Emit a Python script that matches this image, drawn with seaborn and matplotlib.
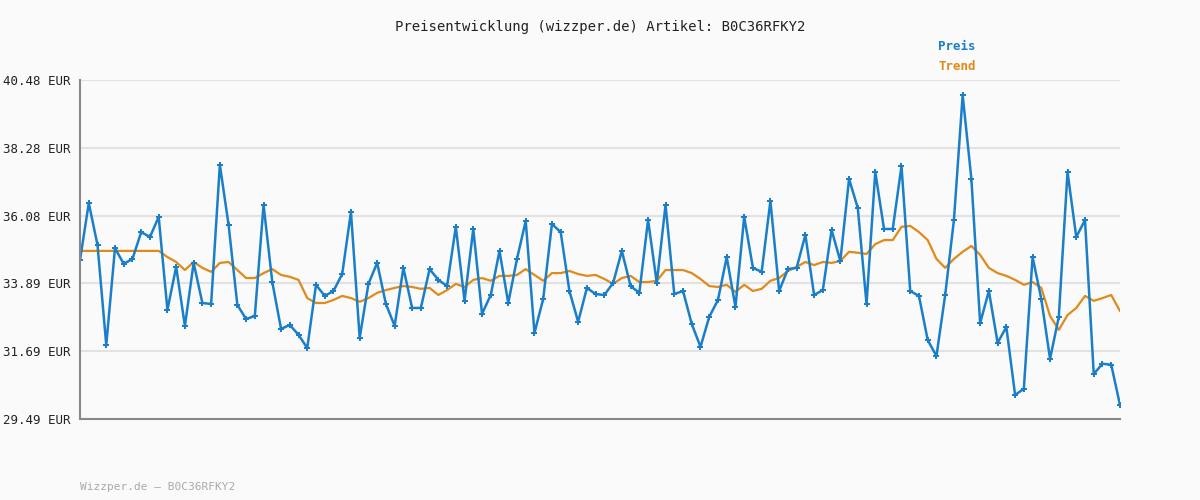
import numpy as np
import matplotlib
matplotlib.use("Agg")
import matplotlib.pyplot as plt
import seaborn as sns

preis = [
    34.65, 36.49, 35.13, 31.89, 35.03, 34.52, 34.68, 35.55, 35.39, 36.04,
    33.03, 34.42, 32.51, 34.55, 33.25, 33.22, 37.73, 35.78, 33.19, 32.73,
    32.83, 36.43, 33.93, 32.41, 32.54, 32.22, 31.79, 33.84, 33.48, 33.64,
    34.19, 36.20, 32.12, 33.87, 34.55, 33.22, 32.51, 34.39, 33.09, 33.09,
    34.35, 34.00, 33.80, 35.72, 33.32, 35.65, 32.90, 33.51, 34.94, 33.25,
    34.68, 35.91, 32.28, 33.38, 35.81, 35.55, 33.64, 32.64, 33.74, 33.54,
    33.51, 33.90, 34.94, 33.80, 33.58, 35.94, 33.90, 36.43, 33.54, 33.64,
    32.57, 31.83, 32.80, 33.35, 34.74, 33.12, 36.04, 34.39, 34.26, 36.56,
    33.64, 34.35, 34.39, 35.46, 33.51, 33.67, 35.62, 34.61, 37.27, 36.33,
    33.22, 37.50, 35.65, 35.65, 37.69, 33.64, 33.48, 32.05, 31.53, 33.51,
    35.94, 39.99, 37.27, 32.60, 33.64, 31.96, 32.47, 30.27, 30.47, 34.74,
    33.38, 31.44, 32.80, 37.50, 35.39, 35.94, 30.95, 31.28, 31.25, 29.95,
]

trend = [
    34.94, 34.94, 34.94, 34.94, 34.94, 34.94, 34.94, 34.94, 34.94, 34.94,
    34.74, 34.58, 34.32, 34.58, 34.39, 34.26, 34.55, 34.58, 34.32, 34.06,
    34.06, 34.22, 34.35, 34.16, 34.10, 34.00, 33.41, 33.25, 33.25, 33.35,
    33.48, 33.41, 33.29, 33.41, 33.58, 33.67, 33.74, 33.80, 33.77, 33.71,
    33.74, 33.51, 33.67, 33.87, 33.77, 34.00, 34.06, 33.97, 34.13, 34.13,
    34.16, 34.35, 34.16, 33.97, 34.22, 34.22, 34.29, 34.19, 34.13, 34.16,
    34.03, 33.87, 34.06, 34.13, 33.93, 33.93, 33.97, 34.32, 34.32, 34.32,
    34.22, 34.03, 33.80, 33.77, 33.84, 33.61, 33.84, 33.64, 33.71, 33.97,
    34.06, 34.29, 34.42, 34.58, 34.48, 34.58, 34.55, 34.61, 34.91, 34.88,
    34.84, 35.16, 35.29, 35.29, 35.72, 35.75, 35.55, 35.29, 34.68, 34.39,
    34.68, 34.91, 35.10, 34.81, 34.39, 34.22, 34.13, 34.00, 33.84, 33.93,
    33.74, 32.83, 32.38, 32.86, 33.09, 33.48, 33.32, 33.41, 33.51, 32.99,
]

yticks = [29.49, 31.69, 33.89, 36.08, 38.28, 40.48]
ytick_labels = [f"{v:.2f} EUR" for v in yticks]

sns.set_theme(style="white")
mono = ["DejaVu Sans Mono"]

blue = "#1a7fc8"
orange = "#e08a1a"

fig = plt.figure(figsize=(12, 5), dpi=100, facecolor="#fafafa")
ax = fig.add_axes([0.0667, 0.162, 0.8666, 0.678])
ax.set_facecolor("#fafafa")

sns.lineplot(x=np.arange(len(trend)), y=trend, ax=ax, color=orange, linewidth=1.6)
sns.lineplot(x=np.arange(len(preis)), y=preis, ax=ax, color=blue, linewidth=1.8,
             marker="P", markersize=4, markeredgewidth=0)

ax.set_xlim(0, len(preis) - 1)
ax.set_ylim(29.49, 40.48)
ax.set_yticks(yticks)
ax.set_yticklabels(ytick_labels, fontfamily=mono, fontsize=9, color="#222222")
ax.set_xticks([])
ax.grid(axis="y", color="#e2e2e2", linewidth=1.5)
ax.tick_params(axis="y", length=5, color="#888888", pad=2)
for s in ["top", "right"]:
    ax.spines[s].set_visible(False)
for s in ["left", "bottom"]:
    ax.spines[s].set_color("#888888")
    ax.spines[s].set_linewidth(1.5)

fig.text(0.5, 0.945, "Preisentwicklung (wizzper.de) Artikel: B0C36RFKY2",
         ha="center", va="center", fontfamily=mono, fontsize=10, color="#222222")
fig.text(0.782, 0.906, "Preis", fontfamily=mono, fontsize=9, color=blue,
         fontweight="bold", va="center")
fig.text(0.782, 0.866, "Trend", fontfamily=mono, fontsize=9, color=orange,
         fontweight="bold", va="center")
fig.text(0.0667, 0.027, "Wizzper.de – B0C36RFKY2", fontfamily=mono, fontsize=8,
         color="#aaaaaa", va="center")

fig.savefig("out.png", dpi=100, facecolor=fig.get_facecolor())
